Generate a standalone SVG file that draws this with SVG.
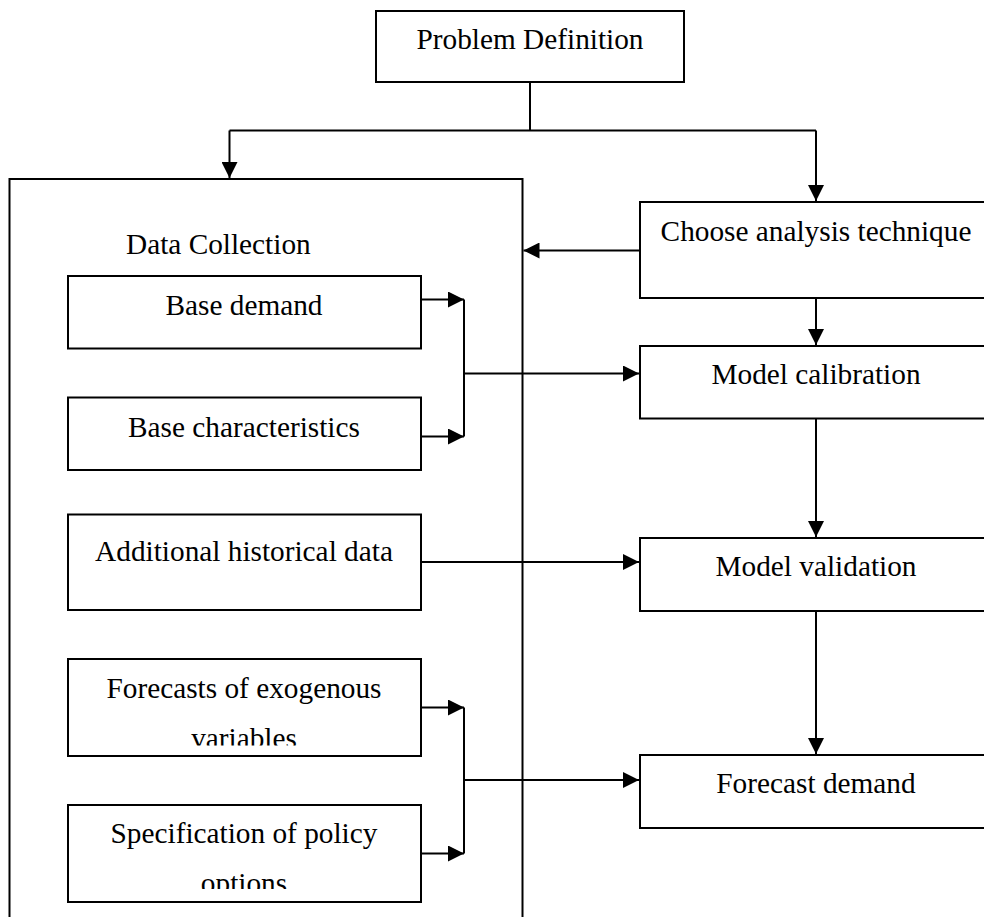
<svg xmlns="http://www.w3.org/2000/svg" width="984" height="917" viewBox="0 0 984 917">
<style>
.box{fill:#fff;stroke:#000;stroke-width:2}
.frame{fill:none;stroke:#000;stroke-width:2}
.t{font-family:"Liberation Serif","Times New Roman",serif;font-size:29.3px;fill:#000}
.m{text-anchor:middle}
.c{fill:none;stroke:#000;stroke-width:2}
.a{fill:none;stroke:#000;stroke-width:2;marker-end:url(#ah)}
</style>
<defs>
<marker id="ah" viewBox="0 0 16 16" refX="16" refY="8" markerWidth="16" markerHeight="16" markerUnits="userSpaceOnUse" orient="auto">
<path d="M0,0 L16,8 L0,16 z" fill="#000"/>
</marker>
<clipPath id="clipF"><rect x="68" y="659" width="352" height="86.5"/></clipPath>
<clipPath id="clipS"><rect x="68" y="805" width="352" height="84"/></clipPath>
</defs>
<rect width="984" height="917" fill="#fff"/>

<g id="problem-definition">
<rect class="box" x="376" y="11" width="308" height="71"/>
<text class="t m" x="530" y="49">Problem Definition</text>
</g>

<g id="data-collection">
<rect class="frame" x="9.5" y="179" width="513" height="760"/>
<text class="t" x="126" y="254">Data Collection</text>
</g>

<g id="base-demand">
<rect class="box" x="68" y="276" width="353" height="72.5"/>
<text class="t m" x="244" y="315">Base demand</text>
</g>

<g id="base-characteristics">
<rect class="box" x="68" y="397.5" width="353" height="72.5"/>
<text class="t m" x="244" y="437">Base characteristics</text>
</g>

<g id="additional-historical-data">
<rect class="box" x="68" y="514.5" width="353" height="95.5"/>
<text class="t m" x="244" y="561">Additional historical data</text>
</g>

<g id="forecasts-exogenous">
<rect class="box" x="68" y="659" width="353" height="97"/>
<g clip-path="url(#clipF)">
<text class="t m" x="244" y="697.5">Forecasts of exogenous</text>
<text class="t m" x="244" y="748">variables</text>
</g>
</g>

<g id="specification-policy">
<rect class="box" x="68" y="805" width="353" height="97"/>
<g clip-path="url(#clipS)">
<text class="t m" x="244" y="843">Specification of policy</text>
<text class="t m" x="244" y="893">options</text>
</g>
</g>

<g id="choose-analysis-technique">
<rect class="box" x="640" y="202" width="352" height="96"/>
<text class="t m" x="816" y="241">Choose analysis technique</text>
</g>

<g id="model-calibration">
<rect class="box" x="640" y="346" width="352" height="72.5"/>
<text class="t m" x="816" y="384">Model calibration</text>
</g>

<g id="model-validation">
<rect class="box" x="640" y="538" width="352" height="73"/>
<text class="t m" x="816" y="576">Model validation</text>
</g>

<g id="forecast-demand">
<rect class="box" x="640" y="755" width="352" height="73"/>
<text class="t m" x="816" y="793">Forecast demand</text>
</g>

<g id="connectors">
<path class="c" d="M530,82 V130.5 M229.5,130.5 H816"/>
<path class="a" d="M229.5,130.5 V178"/>
<path class="a" d="M816,130.5 V201"/>
<path class="a" d="M640,250.5 H523.5"/>
<path class="a" d="M816,298 V345"/>
<path class="a" d="M816,418.5 V537"/>
<path class="a" d="M816,611 V754"/>
<path class="a" d="M421,299.5 H464"/>
<path class="a" d="M421,436.5 H464"/>
<path class="c" d="M464,299.5 V436.5"/>
<path class="a" d="M464,373.5 H639"/>
<path class="a" d="M421,562 H639"/>
<path class="a" d="M421,707.5 H464"/>
<path class="a" d="M421,853.5 H464"/>
<path class="c" d="M464,707.5 V853.5"/>
<path class="a" d="M464,780 H639"/>
</g>
</svg>
